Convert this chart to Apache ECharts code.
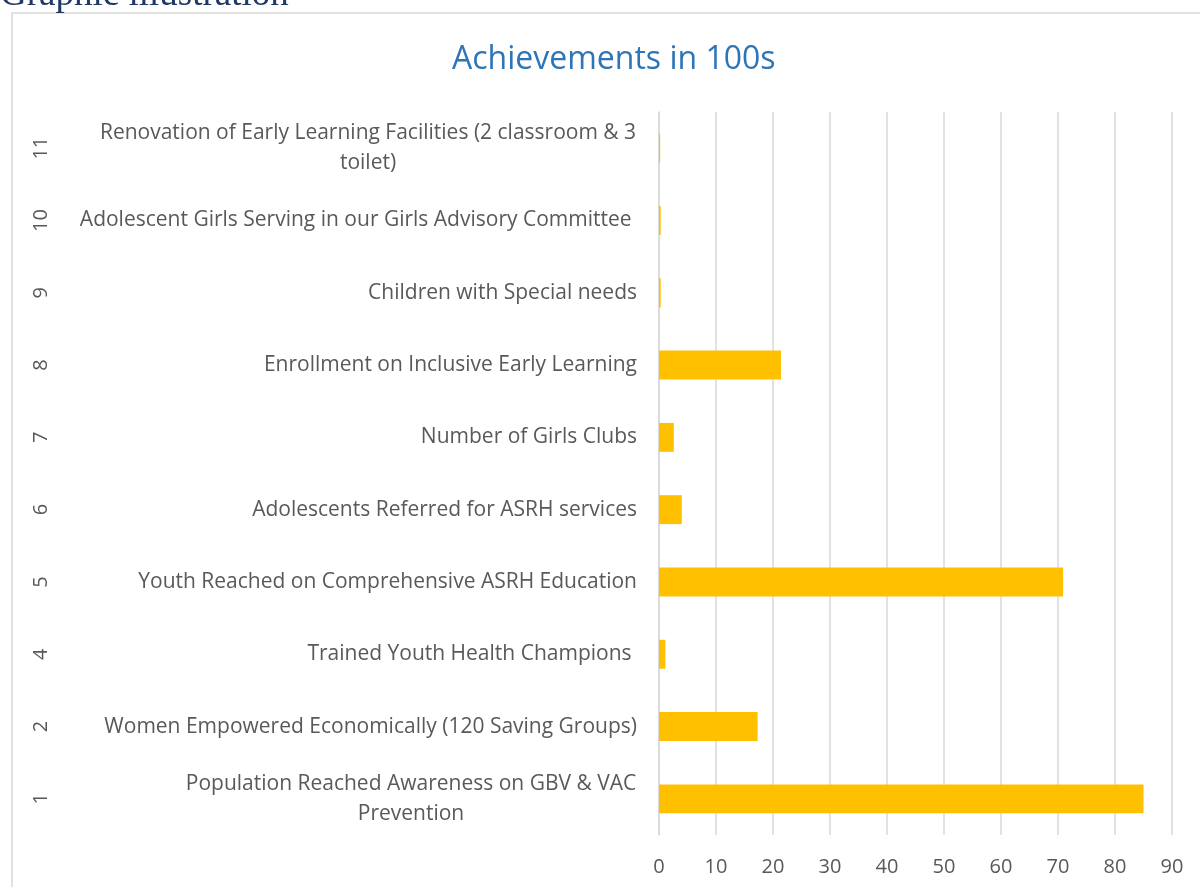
<!DOCTYPE html>
<html><head><meta charset="utf-8">
<script src="https://cdn.jsdelivr.net/npm/echarts@6/dist/echarts.min.js"></script>
<style>html,body{margin:0;padding:0;background:#fff}#c{width:1200px;height:887px}</style>
</head><body><div id="c"></div>
<script>
const indexLabels = ['1','2','4','5','6','7','8','9','10','11'];
const categories = [
  'Population Reached Awareness on GBV & VAC\nPrevention',
  'Women Empowered Economically (120 Saving Groups)',
  'Trained Youth Health Champions ',
  'Youth Reached on Comprehensive ASRH Education',
  'Adolescents Referred for ASRH services',
  'Number of Girls Clubs',
  'Enrollment on Inclusive Early Learning',
  'Children with Special needs',
  'Adolescent Girls Serving in our Girls Advisory Committee ',
  'Renovation of Early Learning Facilities (2 classroom & 3\ntoilet)'
];
const values = [85, 17.3, 1.1, 70.9, 4.0, 2.6, 21.4, 0.3, 0.3, 0.2];
const xTicks = {min: 0, max: 90, interval: 10};

const FONT = 'Open Sans';
const LABEL_SIZE = 21;
const cv = document.createElement('canvas').getContext('2d');
cv.font = LABEL_SIZE + 'px "' + FONT + '"';
const rich = {};
categories.forEach((c, i) => {
  if (c.indexOf('\n') >= 0) {
    let w = 0;
    c.split('\n').forEach(s => { w = Math.max(w, cv.measureText(s).width); });
    rich['c' + i] = {width: Math.ceil(w) + 1, align: 'center', color: '#595959', fontSize: LABEL_SIZE, fontFamily: FONT, lineHeight: 30};
  }
});
function fmt(v, i){
  if (v.indexOf('\n') < 0) return v;
  return v.split('\n').map(s => '{c' + i + '|' + s + '}').join('\n');
}

const chart = echarts.init(document.getElementById('c'));
chart.setOption({
  backgroundColor: '#fff',
  animation: false,
  title: {
    text: 'Achievements in 100s', left: 447, top: 39,
    textStyle: {color: '#2E75B6', fontSize: 32, fontWeight: 'normal', fontFamily: FONT}
  },
  graphic: [
    {type: 'rect', shape: {x: 12, y: 13, width: 1200, height: 900},
     style: {fill: 'none', stroke: '#d9d9d9', lineWidth: 1.5}, silent: true},
    {type: 'text', left: 0, top: -23,
     style: {text: 'Graphic illustration', fill: '#1F3864', font: '37px "Liberation Serif"'}}
  ],
  grid: {left: 659, right: 28, top: 112, bottom: 52},
  xAxis: {
    type: 'value', min: xTicks.min, max: xTicks.max, interval: xTicks.interval,
    axisLine: {show: false}, axisTick: {show: false},
    splitLine: {lineStyle: {color: '#d9d9d9', width: 1.5}},
    axisLabel: {color: '#595959', fontSize: 20, fontFamily: FONT, margin: 22}
  },
  yAxis: [
    {
      type: 'category', data: categories,
      axisLine: {show: true, lineStyle: {color: '#d9d9d9', width: 1.5}},
      axisTick: {show: false},
      axisLabel: {
        color: '#595959', fontSize: LABEL_SIZE, fontFamily: FONT, margin: 22, lineHeight: 30,
        formatter: fmt, rich: rich
      }
    },
    {
      type: 'category', data: indexLabels, position: 'left', offset: 600,
      axisLine: {show: false}, axisTick: {show: false},
      axisLabel: {rotate: 90, color: '#595959', fontSize: 20, fontFamily: FONT, margin: 8}
    }
  ],
  series: [
    {type: 'bar', data: values, barWidth: '40%', itemStyle: {color: '#FFC000'}, yAxisIndex: 0}
  ]
});
</script></body></html>
